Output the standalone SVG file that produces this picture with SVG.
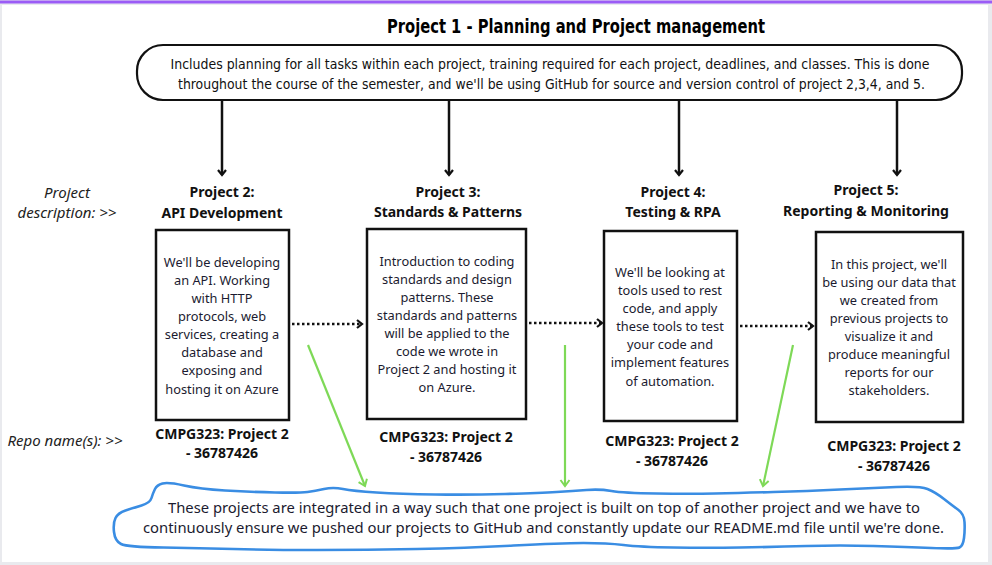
<svg xmlns="http://www.w3.org/2000/svg" width="992" height="565" viewBox="0 0 992 565">
<style>
.title{font-family:"Liberation Sans Narrow","DejaVu Sans Condensed","Liberation Sans",sans-serif;font-stretch:condensed;font-weight:bold;font-size:19px;fill:#000;text-anchor:middle}
.cond{font-family:"Liberation Sans Narrow","DejaVu Sans Condensed","Liberation Sans",sans-serif;font-stretch:condensed;font-size:14px;fill:#111;text-anchor:middle}
.lbl{font-family:"Noto Sans","Open Sans",sans-serif;font-weight:bold;font-size:14px;fill:#111;text-anchor:middle}
.body{font-family:"Noto Sans","Open Sans",sans-serif;font-size:12.8px;fill:#1b1b30;text-anchor:middle}
.side{font-family:"Noto Sans","Open Sans",sans-serif;font-style:italic;font-size:15px;fill:#222;text-anchor:middle}
.foot{font-family:"Noto Sans","Open Sans",sans-serif;font-size:14.5px;fill:#1b1b30;text-anchor:middle}
.box{fill:#fff;stroke:#111;stroke-width:2.5}
.down{stroke:#111;stroke-width:2.5;fill:none}
.dot{stroke:#111;stroke-width:2.5;stroke-dasharray:2.5 2.5;fill:none}
.green{stroke:#7ed957;stroke-width:2.2;fill:none}
</style>
<defs>
<marker id="ah" markerUnits="userSpaceOnUse" viewBox="-7 -6 9 12" refX="0" refY="0" markerWidth="9" markerHeight="12" orient="auto">
<path d="M-5,-4 L0,0 L-5,4" fill="none" stroke="#111" stroke-width="2.2"/>
</marker>
<marker id="ag" markerUnits="userSpaceOnUse" viewBox="-8 -6 10 12" refX="0" refY="0" markerWidth="10" markerHeight="12" orient="auto">
<path d="M-6,-4.5 L0,0 L-6,4.5" fill="none" stroke="#7ed957" stroke-width="2"/>
</marker>
</defs>
<rect x="0" y="0" width="992" height="565" fill="#e9eaee"/>
<rect x="0" y="0.5" width="992" height="3" fill="#9b5cf6"/>
<rect x="2" y="5" width="986" height="557" fill="#fff"/>

<g id="title"><text class="title" x="576" y="33" textLength="378" lengthAdjust="spacingAndGlyphs">Project 1 - Planning and Project management</text></g>

<g id="project1">
<rect x="137" y="45" width="825" height="55" rx="26" ry="26" fill="#fff" stroke="#111" stroke-width="2.2"/>
<text class="cond" x="550" y="69" textLength="759" lengthAdjust="spacingAndGlyphs">Includes planning for all tasks within each project, training required for each project, deadlines, and classes.  This is done</text>
<text class="cond" x="551.5" y="89" textLength="747" lengthAdjust="spacingAndGlyphs">throughout the course of the semester, and we'll be using GitHub for source and version control of project 2,3,4, and 5.</text>
</g>

<g id="side-labels">
<text class="side" x="67" y="198">Project</text>
<text class="side" x="67" y="218">description: &gt;&gt;</text>
<text class="side" x="65" y="446">Repo name(s): &gt;&gt;</text>
</g>

<g id="project2">
<text class="lbl" x="222" y="197">Project 2:</text>
<text class="lbl" x="222" y="218">API Development</text>
<rect class="box" x="156" y="230" width="133" height="190"/>
<text class="body" x="222" y="267">We'll be developing</text>
<text class="body" x="222" y="285">an API. Working</text>
<text class="body" x="222" y="303">with HTTP</text>
<text class="body" x="222" y="321">protocols, web</text>
<text class="body" x="222" y="339">services, creating a</text>
<text class="body" x="222" y="357">database and</text>
<text class="body" x="222" y="375">exposing and</text>
<text class="body" x="222" y="394">hosting it on Azure</text>
<text class="lbl" x="222" y="439">CMPG323: Project 2</text>
<text class="lbl" x="222" y="458">- 36787426</text>
</g>

<g id="project3">
<text class="lbl" x="448" y="197">Project 3:</text>
<text class="lbl" x="448" y="217">Standards &amp; Patterns</text>
<rect class="box" x="367" y="229" width="159" height="190"/>
<text class="body" x="447" y="266">Introduction to coding</text>
<text class="body" x="447" y="284">standards and design</text>
<text class="body" x="447" y="302">patterns. These</text>
<text class="body" x="447" y="320">standards and patterns</text>
<text class="body" x="447" y="338">will be applied to the</text>
<text class="body" x="447" y="356">code we wrote in</text>
<text class="body" x="447" y="374">Project 2 and hosting it</text>
<text class="body" x="447" y="392">on Azure.</text>
<text class="lbl" x="446" y="442">CMPG323: Project 2</text>
<text class="lbl" x="446" y="462">- 36787426</text>
</g>

<g id="project4">
<text class="lbl" x="673" y="197">Project 4:</text>
<text class="lbl" x="673" y="217">Testing &amp; RPA</text>
<rect class="box" x="604" y="231" width="133" height="190"/>
<text class="body" x="670" y="277">We'll be looking at</text>
<text class="body" x="670" y="295">tools used to rest</text>
<text class="body" x="670" y="313">code, and apply</text>
<text class="body" x="670" y="331">these tools to test</text>
<text class="body" x="670" y="349">your code and</text>
<text class="body" x="670" y="367">implement features</text>
<text class="body" x="670" y="386">of automation.</text>
<text class="lbl" x="672" y="446">CMPG323: Project 2</text>
<text class="lbl" x="672" y="466">- 36787426</text>
</g>

<g id="project5">
<text class="lbl" x="866" y="195">Project 5:</text>
<text class="lbl" x="866" y="216">Reporting &amp; Monitoring</text>
<rect class="box" x="816" y="232" width="147" height="190"/>
<text class="body" x="889" y="269">In this project, we'll</text>
<text class="body" x="889" y="287">be using our data that</text>
<text class="body" x="889" y="305">we created from</text>
<text class="body" x="889" y="323">previous projects to</text>
<text class="body" x="889" y="341">visualize it and</text>
<text class="body" x="889" y="359">produce meaningful</text>
<text class="body" x="889" y="377">reports for our</text>
<text class="body" x="889" y="395">stakeholders.</text>
<text class="lbl" x="894" y="451">CMPG323: Project 2</text>
<text class="lbl" x="894" y="471">- 36787426</text>
</g>

<g id="summary">
<path d="M155,489 Q157,485 162.5,483.5 Q168,482 184,485.5 Q200,489 225,490.5 Q250,492 275,492.5 Q300,493 307.5,492 Q315,491 324,489 Q333,487 343,489 Q353,491 376.5,492.5 Q400,494 435,494.5 Q470,495 505,494 Q540,493 556.5,492 Q573,491 586.5,490 Q600,489 611.5,491 Q623,493 656.5,493.5 Q690,494 715,493.5 Q740,493 773.5,492 Q807,491 840,489.5 Q873,488 896.5,487 Q920,486 927.5,489 Q935,492 944,499 Q953,506 958.5,510 Q964,514 964.5,522 Q965,530 964,538 Q963,546 959.5,547.5 Q956,549 931.5,548 Q907,547 873.5,546 Q840,545 806.5,546 Q773,547 740,547.5 Q707,548 673.5,547.5 Q640,547 623.5,545 Q607,543 583.5,543 Q560,543 513.5,545.5 Q467,548 417,549 Q367,550 317,550 Q267,550 233.5,549 Q200,548 163.5,547.5 Q127,547 121,544 Q115,541 114,532 Q113,523 115.5,518 Q118,513 125.5,510.5 Q133,508 141.5,505.5 Q150,503 151.5,498 Q153,493 155,489 Z" fill="none" stroke="#3a8de3" stroke-width="2.6" stroke-linejoin="round"/>
<text class="foot" x="544" y="513" textLength="752" lengthAdjust="spacingAndGlyphs">These projects are integrated in a way such that one project is built on top of another project and we have to</text>
<text class="foot" x="543.5" y="533" textLength="801" lengthAdjust="spacingAndGlyphs">continuously ensure we pushed our projects to GitHub and constantly update our README.md file until we're done.</text>
</g>

<g id="connectors">
<line class="down" x1="222" y1="100" x2="222" y2="175" marker-end="url(#ah)"/>
<line class="down" x1="449" y1="100" x2="449" y2="175" marker-end="url(#ah)"/>
<line class="down" x1="679" y1="100" x2="679" y2="175" marker-end="url(#ah)"/>
<line class="down" x1="897" y1="100" x2="897" y2="175" marker-end="url(#ah)"/>
<line class="dot" x1="292" y1="324" x2="362" y2="324" marker-end="url(#ah)"/>
<line class="dot" x1="529" y1="323" x2="602" y2="323" marker-end="url(#ah)"/>
<line class="dot" x1="740" y1="326" x2="813" y2="326" marker-end="url(#ah)"/>
<line class="green" x1="308" y1="345" x2="365" y2="486" marker-end="url(#ag)"/>
<line class="green" x1="565" y1="345" x2="565" y2="486" marker-end="url(#ag)"/>
<line class="green" x1="793" y1="345" x2="763" y2="486" marker-end="url(#ag)"/>
</g>
</svg>
